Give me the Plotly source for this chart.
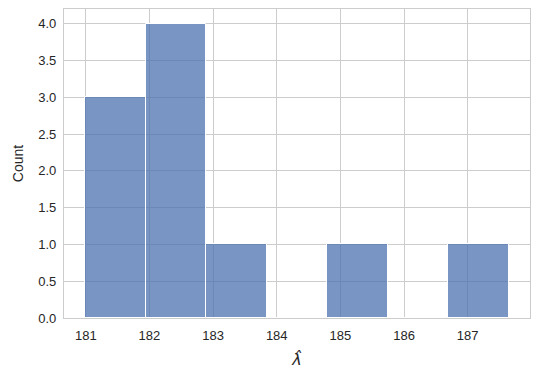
import plotly.graph_objects as go

# Histogram of lambda-hat estimates
bin_start = 180.99
bin_width = 0.951
counts = [3, 4, 1, 0, 1, 0, 1]
x_ticks = [181, 182, 183, 184, 185, 186, 187]
y_ticks = [0.0, 0.5, 1.0, 1.5, 2.0, 2.5, 3.0, 3.5, 4.0]

centers = [bin_start + bin_width * (i + 0.5) for i in range(len(counts))]

fig = go.Figure()
fig.add_trace(go.Bar(
    x=centers, y=counts, width=[bin_width] * len(counts),
    marker=dict(color="rgba(76,114,176,0.75)", line=dict(color="white", width=1)),
    hoverinfo="skip",
))

span = bin_width * len(counts)
fig.update_layout(
    width=540, height=385,
    margin=dict(l=64, r=10, t=9, b=67),
    plot_bgcolor="white", paper_bgcolor="white",
    font=dict(family="Liberation Sans, Arial, sans-serif", color="#262626", size=13),
    showlegend=False,
    bargap=0,
)
fig.update_xaxes(
    range=[bin_start - 0.05 * span, bin_start + 1.05 * span],
    tickvals=x_ticks, ticktext=[str(t) for t in x_ticks],
    showgrid=True, gridcolor="#cccccc", gridwidth=1,
    showline=True, linecolor="#cccccc", linewidth=1.25, mirror=True,
    zeroline=False, ticks="outside", ticklen=5, tickcolor="rgba(0,0,0,0)",
    title=dict(text="<i>λ̂</i>", font=dict(size=16, family="DejaVu Sans"), standoff=12),
)
fig.update_yaxes(
    range=[0, 4.2],
    tickvals=y_ticks, ticktext=[f"{t:.1f}" for t in y_ticks],
    showgrid=True, gridcolor="#cccccc", gridwidth=1,
    showline=True, linecolor="#cccccc", linewidth=1.25, mirror=True,
    zeroline=False, ticks="outside", ticklen=4, tickcolor="rgba(0,0,0,0)",
    title=dict(text="Count", font=dict(size=14), standoff=11),
)

fig.write_html("out.html")
